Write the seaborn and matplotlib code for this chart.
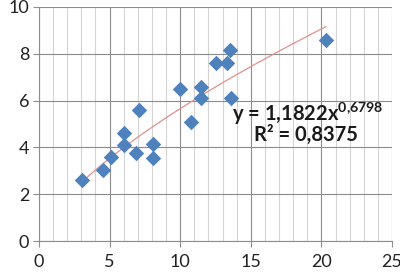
import numpy as np
import pandas as pd
import matplotlib
matplotlib.use("Agg")
import matplotlib.pyplot as plt
import seaborn as sns
from matplotlib.ticker import MultipleLocator

# data
X_VALUES = [3.05, 4.55, 5.1, 6.0, 6.0, 6.85, 7.05, 8.05, 8.05,
            10.0, 10.8, 11.5, 11.5, 12.5, 13.3, 13.5, 13.6, 20.35]
Y_VALUES = [2.6, 3.05, 3.6, 4.1, 4.6, 3.75, 5.6, 4.15, 3.55,
            6.5, 5.1, 6.6, 6.1, 7.6, 7.6, 8.15, 6.1, 8.6]
FIT_A = 1.1822
FIT_B = 0.6798
EQ_LABEL = r"y = 1,1822x$^{\mathrm{0{,}6798}}$"
R2_LABEL = "R² = 0,8375"

BLUE = "#4F81BD"
TREND = "#E0908C"


def main():
    sns.set_theme(style="white")
    plt.rcParams['font.family'] = ['Lato', 'DejaVu Sans']
    plt.rcParams['mathtext.fontset'] = 'custom'
    plt.rcParams['mathtext.rm'] = 'Lato:bold'

    df = pd.DataFrame({"x": X_VALUES, "y": Y_VALUES})

    fig = plt.figure(figsize=(4.0, 2.74), dpi=100)
    ax = fig.add_axes([0.0975, 0.1204, 0.8825, 0.8541])

    # power trendline over the data range
    xs = np.linspace(df.x.min(), df.x.max(), 100)
    ax.plot(xs, FIT_A * xs ** FIT_B, color=TREND, lw=0.9, zorder=2)

    sns.scatterplot(data=df, x="x", y="y", marker="D", s=62, color=BLUE,
                    edgecolor=BLUE, linewidth=0, ax=ax, zorder=3)

    ax.set_xlim(0, 25)
    ax.set_ylim(0, 10)
    ax.xaxis.set_major_locator(MultipleLocator(5))
    ax.xaxis.set_minor_locator(MultipleLocator(1))
    ax.yaxis.set_major_locator(MultipleLocator(2))

    ax.grid(True, which="major", axis="both", color="#8C8C8C", lw=0.8, zorder=0)
    ax.grid(True, which="minor", axis="x", color="#D4D4D4", lw=0.8, zorder=0)
    ax.set_axisbelow(True)

    for side in ["top", "right"]:
        ax.spines[side].set_visible(False)
    for side in ["left", "bottom"]:
        ax.spines[side].set_color("#8C8C8C")
        ax.spines[side].set_linewidth(0.8)

    ax.tick_params(axis="both", which="major", labelsize=13, colors="#8C8C8C",
                   labelcolor="#222222", length=4, width=0.8, direction="out")
    ax.tick_params(axis="x", which="major", pad=5)
    ax.tick_params(axis="y", which="major", pad=3)
    ax.tick_params(axis="x", which="minor", length=0)
    ax.tick_params(left=True, bottom=True)
    ax.set_xlabel("")
    ax.set_ylabel("")

    ax.text(13.7, 5.45, EQ_LABEL, fontsize=14.5, fontweight="bold",
            color="#1A1A1A", va="center", ha="left")
    ax.text(15.2, 4.53, R2_LABEL, fontsize=14.5, fontweight="bold",
            color="#1A1A1A", va="center", ha="left")

    fig.savefig("out.png", dpi=100)
    plt.close(fig)


if __name__ == "__main__":
    main()
